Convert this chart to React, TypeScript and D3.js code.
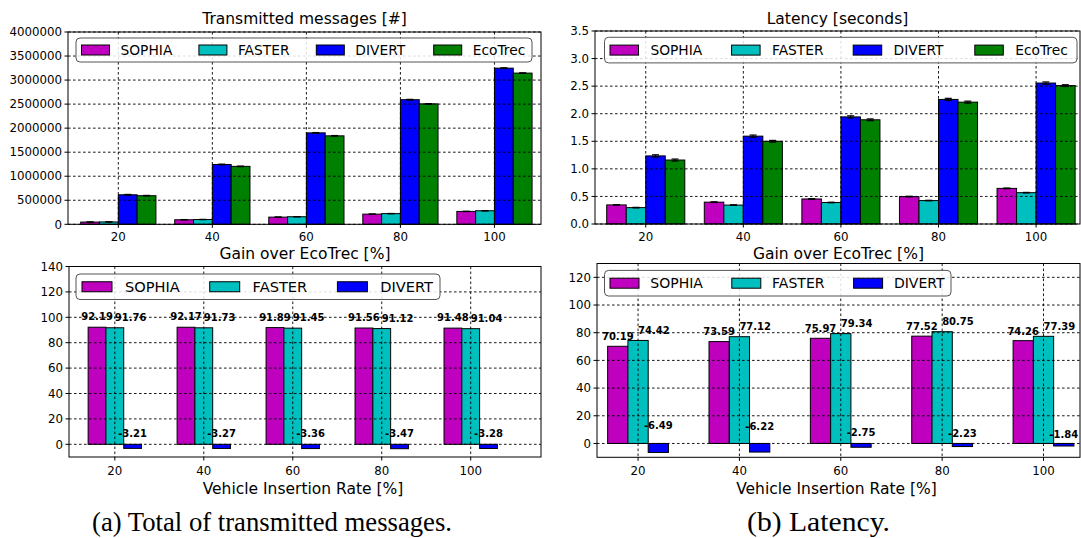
import React from "react";
import * as d3 from "d3";

// vehicle insertion rate [%]
const rates = [20, 40, 60, 80, 100];

// transmitted messages [#]
const msgSophia = [46500, 94400, 149200, 211400, 268000];
const msgFaster = [49000, 99700, 157300, 222400, 281800];
const msgDivert = [614100, 1244400, 1901800, 2592000, 3248000];
const msgEcotrec = [595000, 1205000, 1840000, 2505000, 3145000];
const msgErrSophia = [3000, 3000, 3000, 3000, 3000];
const msgErrFaster = [3000, 3000, 3000, 3000, 3000];
const msgErrDivert = [7000, 7000, 7000, 7000, 7000];
const msgErrEcotrec = [6000, 6000, 6000, 6000, 6000];

// latency [s]
const latSophia = [0.346, 0.396, 0.454, 0.497, 0.646];
const latFaster = [0.297, 0.343, 0.39, 0.425, 0.568];
const latDivert = [1.235, 1.593, 1.942, 2.259, 2.556];
const latEcotrec = [1.16, 1.5, 1.89, 2.21, 2.51];
const latErrSophia = [0.006, 0.006, 0.006, 0.006, 0.006];
const latErrFaster = [0.005, 0.005, 0.005, 0.005, 0.005];
const latErrDivert = [0.02, 0.02, 0.02, 0.02, 0.02];
const latErrEcotrec = [0.018, 0.016, 0.016, 0.018, 0.016];

// gain over EcoTrec [%]
const msgGainSophia = [92.19, 92.17, 91.89, 91.56, 91.48];
const msgGainFaster = [91.76, 91.73, 91.45, 91.12, 91.04];
const msgGainDivert = [-3.21, -3.27, -3.36, -3.47, -3.28];
const latGainSophia = [70.19, 73.59, 75.97, 77.52, 74.26];
const latGainFaster = [74.42, 77.12, 79.34, 80.75, 77.39];
const latGainDivert = [-6.49, -6.22, -2.75, -2.23, -1.84];

const msgTicks = [0, 500000, 1000000, 1500000, 2000000, 2500000, 3000000, 3500000, 4000000];
const latTicks = [0, 0.5, 1, 1.5, 2, 2.5, 3, 3.5];
const msgGainTicks = [0, 20, 40, 60, 80, 100, 120, 140];
const latGainTicks = [0, 20, 40, 60, 80, 100, 120];

const colors = { SOPHIA: "#bf00bf", FASTER: "#00bfbf", DIVERT: "#0000ff", EcoTrec: "#008000" };
const font = "DejaVu Sans, sans-serif";

type Series = { name: string; values: number[]; err?: number[]; anchor?: string };

function Panel(props: any) {
  const { l, r, t, b, xDomain, yDomain, yTicks, yFormat, series, title, titleY, tickY, xlabel, legend, labels } = props;
  const x = d3.scaleLinear().domain(xDomain).range([l, r]);
  const y = d3.scaleLinear().domain(yDomain).range([b, t]);
  const n = series.length;
  const w = 4;

  return (
    <g>
      {series.map((s: Series, i: number) => {
        const off = (i - (n - 1) / 2) * w;
        return s.values.map((v, j) => {
          const c = rates[j] + off;
          return (
            <rect key={s.name + j} x={x(c - w / 2)} width={x(c + w / 2) - x(c - w / 2)}
              y={y(Math.max(v, 0))} height={Math.abs(y(v) - y(0))}
              fill={colors[s.name]} stroke="#000" strokeWidth={1} />
          );
        });
      })}
      {series.map((s: Series, i: number) => {
        if (!s.err) return null;
        const off = (i - (n - 1) / 2) * w;
        return s.values.map((v, j) => {
          const cx = x(rates[j] + off);
          const e = s.err![j];
          return (
            <g key={"e" + s.name + j} stroke="#000" strokeWidth={1.2}>
              <line x1={cx} x2={cx} y1={y(v - e)} y2={y(v + e)} />
              <line x1={cx - 3.5} x2={cx + 3.5} y1={y(v - e)} y2={y(v - e)} />
              <line x1={cx - 3.5} x2={cx + 3.5} y1={y(v + e)} y2={y(v + e)} />
            </g>
          );
        });
      })}
      {/* grid */}
      <g stroke="#000" strokeWidth={0.9} strokeDasharray="2.6,2.4">
        {yTicks.map((v: number) => (
          <line key={"gy" + v} x1={l} x2={r} y1={y(v)} y2={y(v)} />
        ))}
        {rates.map((v) => (
          <line key={"gx" + v} x1={x(v)} x2={x(v)} y1={t} y2={b} />
        ))}
      </g>
      <rect x={l} y={t} width={r - l} height={b - t} fill="none" stroke="#000" strokeWidth={1} />
      {/* ticks */}
      <g stroke="#000" strokeWidth={1}>
        {yTicks.map((v: number) => (
          <line key={"ty" + v} x1={l - 3.5} x2={l} y1={y(v)} y2={y(v)} />
        ))}
        {rates.map((v) => (
          <line key={"tx" + v} x1={x(v)} x2={x(v)} y1={b} y2={b + 3.5} />
        ))}
      </g>
      <g fontFamily={font} fontSize={11.8} fill="#000">
        {yTicks.map((v: number) => (
          <text key={"ly" + v} x={l - 6} y={y(v) + 4.2} textAnchor="end">{yFormat(v)}</text>
        ))}
        {rates.map((v) => (
          <text key={"lx" + v} x={x(v)} y={tickY} textAnchor="middle">{v}</text>
        ))}
      </g>
      {labels &&
        series.map((s: Series, i: number) => {
          const off = (i - (n - 1) / 2) * w;
          return s.values.map((v, j) => (
            <text key={"bl" + s.name + j} x={x(rates[j] + off)}
              y={v >= 0 ? y(1.05 * v) - 1 : y(1.4 * Math.abs(v) + 1.2)}
              textAnchor={s.anchor || "middle"} fontFamily={font} fontSize={10} fontWeight="bold">
              {v.toFixed(2)}
            </text>
          ));
        })}
      <text x={(l + r) / 2} y={titleY} textAnchor="middle" fontFamily={font} fontSize={15.5}>{title}</text>
      {xlabel && (
        <text x={(l + r) / 2 - 2} y={xlabel.y} textAnchor="middle" fontFamily={font} fontSize={15.5}>{xlabel.text}</text>
      )}
      {/* legend */}
      <g>
        <rect x={legend.x0} y={legend.y0} width={legend.x1 - legend.x0} height={legend.y1 - legend.y0}
          rx={4} fill="#fff" fillOpacity={0.85} stroke="#555" strokeWidth={1} />
        {series.map((s: Series, i: number) => {
          const px = legend.px + i * legend.step;
          const cy = (legend.y0 + legend.y1) / 2;
          return (
            <g key={"lg" + s.name}>
              <rect x={px} y={cy - 5} width={legend.pw} height={10} fill={colors[s.name]} stroke="#000" strokeWidth={1} />
              <text x={px + legend.to} y={cy + legend.fs * 0.36} fontFamily={font} fontSize={legend.fs}>{s.name}</text>
            </g>
          );
        })}
      </g>
    </g>
  );
}

export default function App() {
  const fmtInt = (v: number) => d3.format("d")(v);
  const fmt1 = (v: number) => d3.format(".1f")(v);
  return (
    <svg width={1081} height={538} style={{ position: "absolute", left: 0, top: 0, background: "#fff" }}>
      <rect x={0} y={0} width={1081} height={538} fill="#fff" />
      <Panel l={68} r={541} t={32} b={224.3} xDomain={[9.3, 109.9]} yDomain={[0, 4000000]}
        yTicks={msgTicks} yFormat={fmtInt} title="Transmitted messages [#]" titleY={24} tickY={240.8}
        series={[
          { name: "SOPHIA", values: msgSophia, err: msgErrSophia },
          { name: "FASTER", values: msgFaster, err: msgErrFaster },
          { name: "DIVERT", values: msgDivert, err: msgErrDivert },
          { name: "EcoTrec", values: msgEcotrec, err: msgErrEcotrec },
        ]}
        legend={{ x0: 76, x1: 532, y0: 38, y1: 62, px: 81.5, step: 117.4, pw: 28, to: 39, fs: 13.8 }} />
      <Panel l={595} r={1080} t={31} b={224} xDomain={[9.6, 109.0]} yDomain={[0, 3.5]}
        yTicks={latTicks} yFormat={fmt1} title="Latency [seconds]" titleY={24} tickY={240.5}
        series={[
          { name: "SOPHIA", values: latSophia, err: latErrSophia },
          { name: "FASTER", values: latFaster, err: latErrFaster },
          { name: "DIVERT", values: latDivert, err: latErrDivert },
          { name: "EcoTrec", values: latEcotrec, err: latErrEcotrec },
        ]}
        legend={{ x0: 604.5, x1: 1077, y0: 37.3, y1: 62.9, px: 610, step: 121.6, pw: 28.5, to: 40.4, fs: 13.8 }} />
      <Panel l={69} r={541} t={266.5} b={457} xDomain={[9.7, 115.8]} yDomain={[-10, 140]}
        yTicks={msgGainTicks} yFormat={fmtInt} title="Gain over EcoTrec [%]" titleY={259} tickY={475}
        xlabel={{ text: "Vehicle Insertion Rate [%]", y: 494 }} labels
        series={[
          { name: "SOPHIA", values: msgGainSophia },
          { name: "FASTER", values: msgGainFaster, anchor: "start" },
          { name: "DIVERT", values: msgGainDivert },
        ]}
        legend={{ x0: 76, x1: 440, y0: 274, y1: 299.5, px: 82, step: 127.7, pw: 30, to: 42.9, fs: 14.6 }} />
      <Panel l={597} r={1080} t={263.5} b={457.3} xDomain={[11.9, 107.2]} yDomain={[-10, 130]}
        yTicks={latGainTicks} yFormat={fmtInt} title="Gain over EcoTrec [%]" titleY={258.5} tickY={474.5}
        xlabel={{ text: "Vehicle Insertion Rate [%]", y: 494 }} labels
        series={[
          { name: "SOPHIA", values: latGainSophia },
          { name: "FASTER", values: latGainFaster, anchor: "start" },
          { name: "DIVERT", values: latGainDivert },
        ]}
        legend={{ x0: 604.5, x1: 951, y0: 270.4, y1: 296, px: 610, step: 121.8, pw: 29, to: 40.3, fs: 14 }} />
      <g fontFamily="Liberation Serif, Times New Roman, serif" fontSize={28} fill="#000">
        <text x={92} y={531} textLength={360} lengthAdjust="spacingAndGlyphs">(a)  Total of transmitted messages.</text>
        <text x={747} y={531} textLength={143} lengthAdjust="spacingAndGlyphs">(b)  Latency.</text>
      </g>
    </svg>
  );
}
